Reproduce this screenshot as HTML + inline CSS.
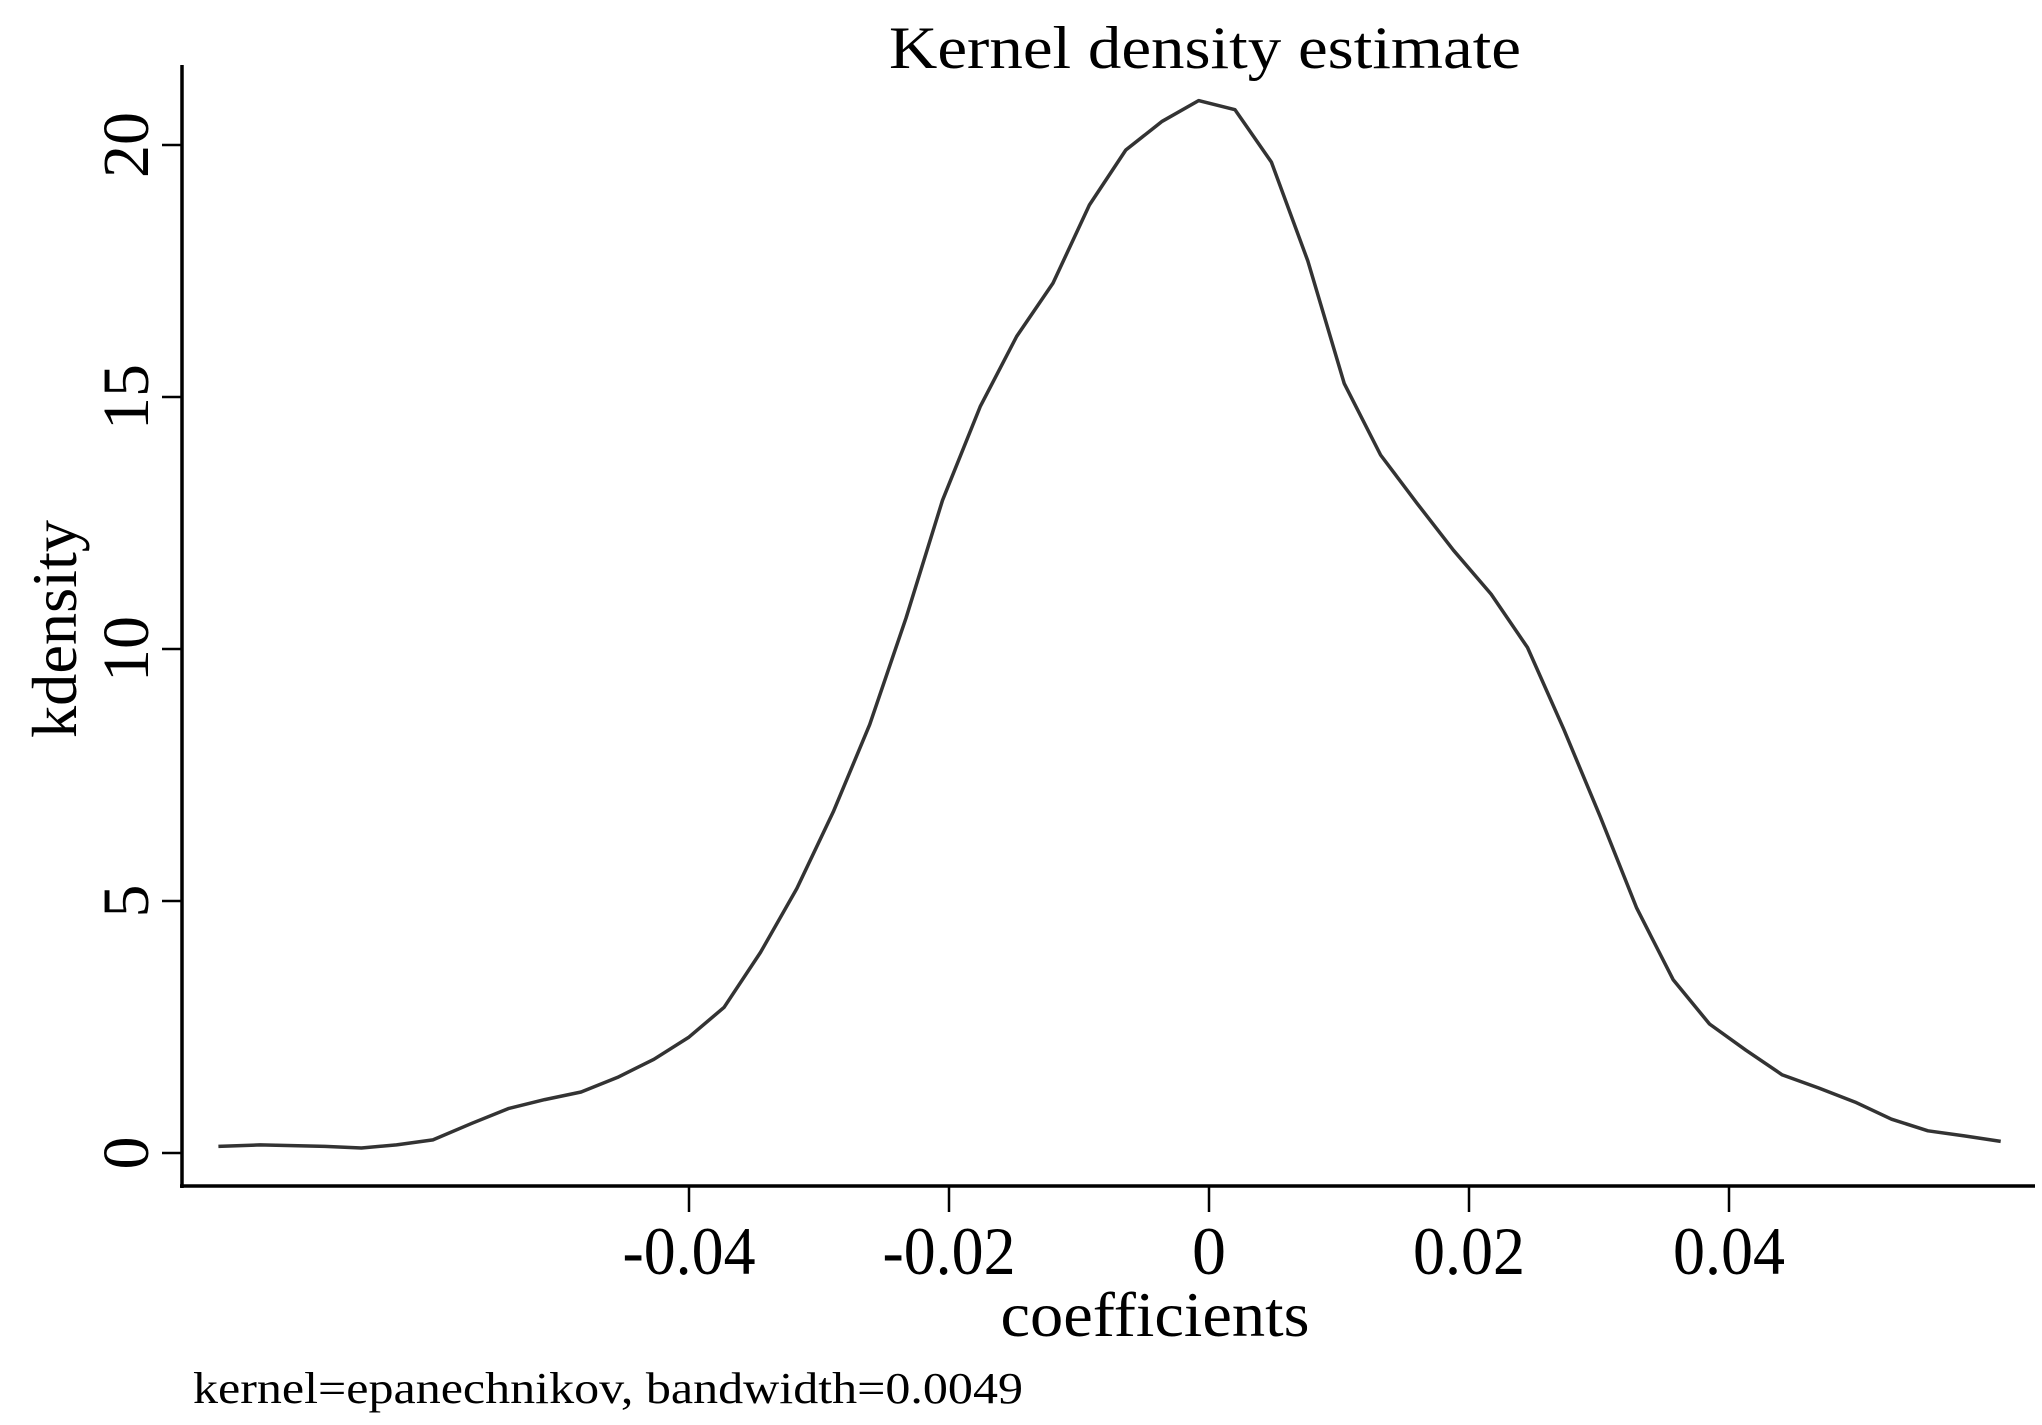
<!DOCTYPE html>
<html><head><meta charset="utf-8"><style>html,body{margin:0;padding:0;background:#fff}svg{display:block}text{font-family:"Liberation Serif",serif;fill:#000}</style></head>
<body>
<svg id="chart" width="2042" height="1425" viewBox="0 0 2042 1425">
<rect width="2042" height="1425" fill="#fff"/>
<text x="1205" y="68" font-size="60" text-anchor="middle" textLength="632" lengthAdjust="spacingAndGlyphs">Kernel density estimate</text>
<line x1="182" y1="65" x2="182" y2="1188" stroke="#000" stroke-width="3.5"/>
<line x1="180" y1="1186" x2="2035" y2="1186" stroke="#000" stroke-width="3.5"/>
<g id="xticks"></g>
<g id="yticks"></g>
<path id="curve" fill="none" stroke="#333" stroke-width="3.5" stroke-linejoin="round"/>
<text x="1155" y="1336" font-size="64" text-anchor="middle" textLength="309" lengthAdjust="spacingAndGlyphs">coefficients</text>
<text transform="translate(76,629) rotate(-90)" font-size="64" text-anchor="middle" textLength="218" lengthAdjust="spacingAndGlyphs">kdensity</text>
<text x="193" y="1403" font-size="44" textLength="830" lengthAdjust="spacingAndGlyphs">kernel=epanechnikov, bandwidth=0.0049</text>
</svg>
<script>
const xs = [-0.0762,-0.0730,-0.0680,-0.0652,-0.0625,-0.0597,-0.0567,-0.0539,-0.0511,-0.0483,-0.0455,-0.0427,-0.0400,-0.0373,-0.0345,-0.0317,-0.0289,-0.0261,-0.0233,-0.0205,-0.0176,-0.0148,-0.0120,-0.0092,-0.0064,-0.0036,-0.0008,0.0020,0.0048,0.0076,0.0104,0.0132,0.0160,0.0188,0.0217,0.0245,0.0273,0.0301,0.0329,0.0357,0.0385,0.0413,0.0441,0.0469,0.0497,0.0525,0.0553,0.0581,0.0609];
const ys = [0.13,0.16,0.13,0.10,0.16,0.26,0.59,0.88,1.06,1.21,1.50,1.86,2.30,2.89,3.98,5.25,6.77,8.50,10.62,12.95,14.81,16.20,17.26,18.81,19.90,20.47,20.88,20.70,19.66,17.70,15.27,13.85,12.89,11.96,11.09,10.03,8.40,6.67,4.86,3.44,2.56,2.04,1.55,1.29,1.01,0.67,0.44,0.34,0.23];
const xTickVals = [-0.04,-0.02,0,0.02,0.04];
const xTickLabels = ["-0.04","-0.02","0","0.02","0.04"];
const yTickVals = [0,5,10,15,20];
const yTickLabels = ["0","5","10","15","20"];
const NS="http://www.w3.org/2000/svg";
function sx(v){return 1209 + v*13000;}
function sy(v){return 1153 - v*50.4;}
let d="";
xs.forEach((x,i)=>{d+=(i?"L":"M")+sx(x).toFixed(1)+","+sy(ys[i]).toFixed(1);});
document.getElementById('curve').setAttribute('d',d);
const xg=document.getElementById('xticks');
xTickVals.forEach((v,i)=>{
  const l=document.createElementNS(NS,'line');
  l.setAttribute('x1',sx(v));l.setAttribute('x2',sx(v));l.setAttribute('y1',1186);l.setAttribute('y2',1212);
  l.setAttribute('stroke','#000');l.setAttribute('stroke-width','2.5');
  
  
  xg.appendChild(l);
  const t=document.createElementNS(NS,'text');
  t.setAttribute('x',sx(v));t.setAttribute('y',1274);t.setAttribute('font-size','68');t.setAttribute('text-anchor','middle');
  if(xTickLabels[i].length>1){
    const w=xTickLabels[i][0]==='-'?133:112;
    t.setAttribute('textLength',w);t.setAttribute('lengthAdjust','spacingAndGlyphs');
  }
  t.textContent=xTickLabels[i];
  
  
  xg.appendChild(t);
});
const yg=document.getElementById('yticks');
yTickVals.forEach((v,i)=>{
  const l=document.createElementNS(NS,'line');
  l.setAttribute('x1',162);l.setAttribute('x2',182);l.setAttribute('y1',sy(v));l.setAttribute('y2',sy(v));
  l.setAttribute('stroke','#000');l.setAttribute('stroke-width','2.5');
  
  
  yg.appendChild(l);
  const t=document.createElementNS(NS,'text');
  t.setAttribute('transform','translate(148,'+sy(v)+') rotate(-90)');
  t.setAttribute('font-size','66');t.setAttribute('text-anchor','middle');
  t.textContent=yTickLabels[i];
  
  
  yg.appendChild(t);
});
</script>
</body></html>
